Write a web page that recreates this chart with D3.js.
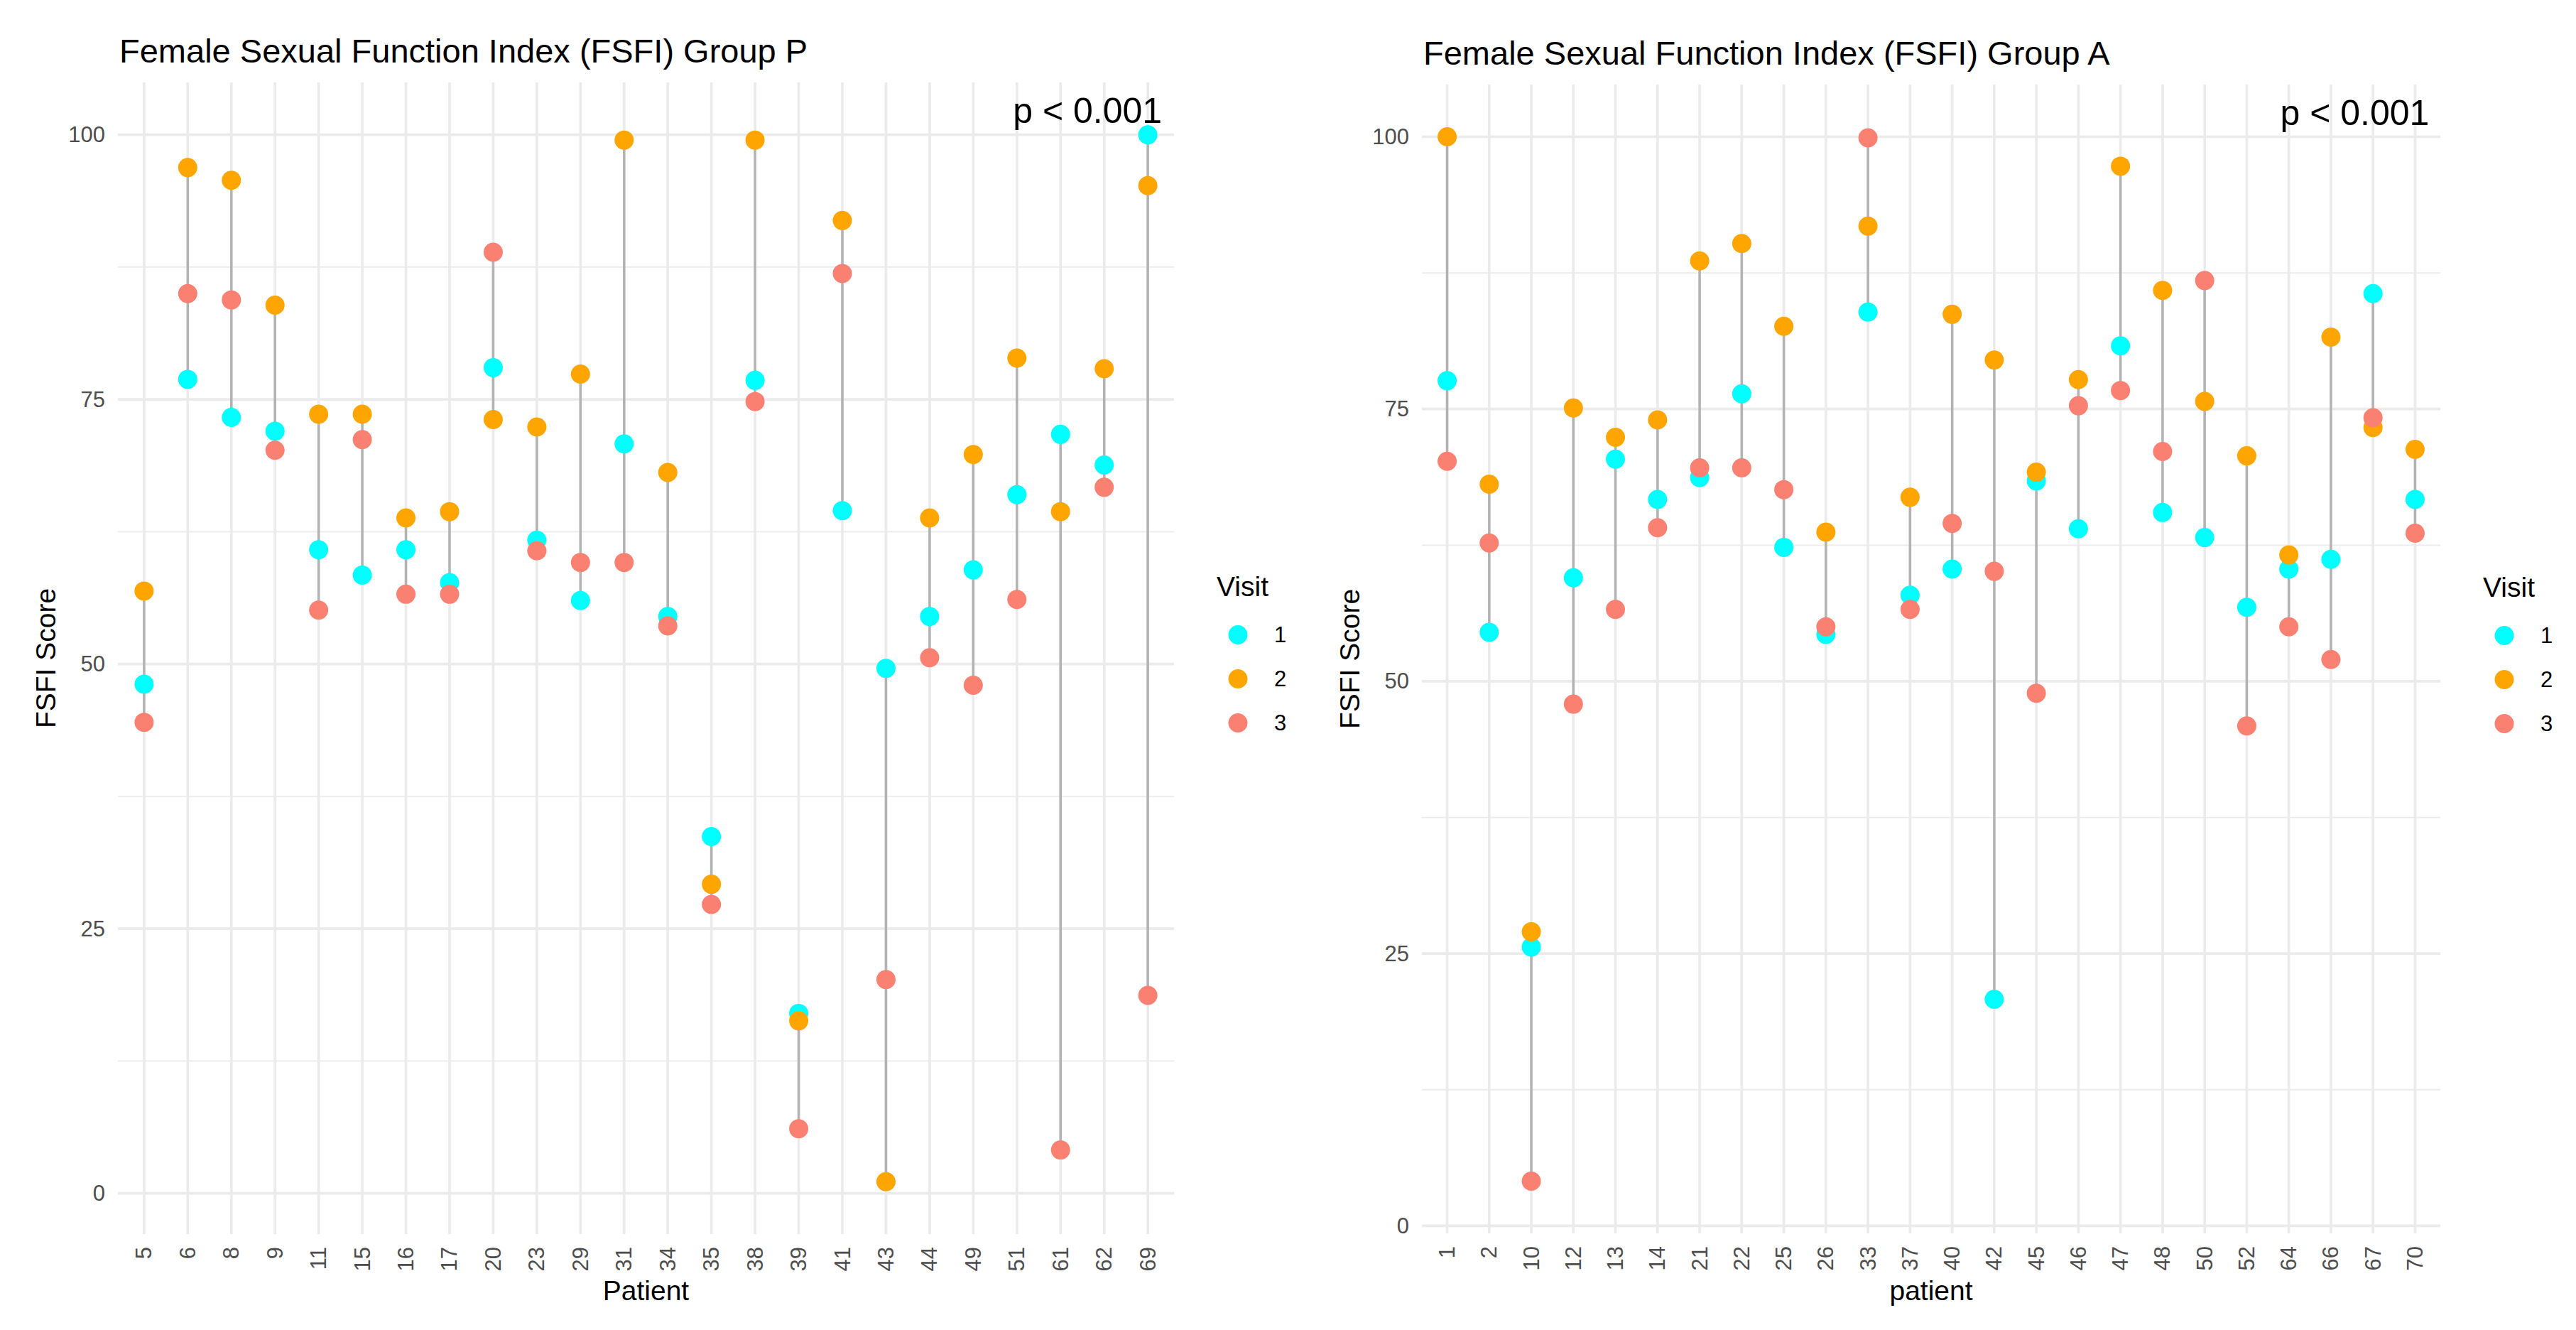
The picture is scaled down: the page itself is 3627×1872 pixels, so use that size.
<!DOCTYPE html>
<html>
<head>
<meta charset="utf-8">
<script src="https://cdn.jsdelivr.net/npm/d3@7"></script>
<style>
  body { margin: 0; background: #fff; }
  text { font-family: "Liberation Sans", Arial, sans-serif; }
</style>
</head>
<body>
<script>
var w = 3627;
var h = 1872;

// Group P
var patientsP = ["5","6","8","9","11","15","16","17","20","23","29","31","34","35","38","39","41","43","44","49","51","61","62","69"];
var visit1P = [48.1, 76.9, 73.3, 72.0, 60.8, 58.4, 60.8, 57.7, 78.0, 61.7, 56.0, 70.8, 54.5, 33.7, 76.8, 17.0, 64.5, 49.6, 54.5, 58.9, 66.0, 71.7, 68.8, 100];
var visit2P = [56.9, 96.9, 95.7, 83.9, 73.6, 73.6, 63.8, 64.4, 73.1, 72.4, 77.4, 99.5, 68.1, 29.2, 99.5, 16.3, 91.9, 1.1, 63.8, 69.8, 78.9, 64.4, 77.9, 95.2];
var visit3P = [44.5, 85.0, 84.4, 70.2, 55.1, 71.2, 56.6, 56.6, 88.9, 60.7, 59.6, 59.6, 53.6, 27.3, 74.8, 6.1, 86.9, 20.2, 50.6, 48.0, 56.1, 4.1, 66.7, 18.7];

// Group A
var patientsA = ["1","2","10","12","13","14","21","22","25","26","33","37","40","42","45","46","47","48","50","52","64","66","67","70"];
var visit1A = [77.6, 54.5, 25.6, 59.5, 70.4, 66.7, 68.7, 76.4, 62.3, 54.3, 83.9, 57.9, 60.3, 20.8, 68.4, 64.0, 80.8, 65.5, 63.2, 56.8, 60.3, 61.2, 85.6, 66.7];
var visit2A = [100, 68.1, 27.0, 75.1, 72.4, 74.0, 88.6, 90.2, 82.6, 63.7, 91.8, 66.9, 83.7, 79.5, 69.2, 77.7, 97.3, 85.9, 75.7, 70.7, 61.6, 81.6, 73.3, 71.3];
var visit3A = [70.2, 62.7, 4.1, 47.9, 56.6, 64.1, 69.6, 69.6, 67.6, 55.0, 99.9, 56.6, 64.5, 60.1, 48.9, 75.3, 76.7, 71.1, 86.8, 45.9, 55.0, 52.0, 74.2, 63.6];

var visits = ["1", "2", "3"];
var visitColors = ["#00ffff", "#ffa500", "#fa8072"];
var yTicks = [0, 25, 50, 75, 100];
var yMinor = [12.5, 37.5, 62.5, 87.5];
var pText = "p < 0.001";
var pY = 101.1;

var svg = d3.select("body")
  .append("svg")
  .attr("width", w)
  .attr("height", h);

svg.append("rect")
  .attr("width", w)
  .attr("height", h)
  .attr("fill", "#fff");

var color = d3.scaleOrdinal().domain(visits).range(visitColors);

function drawPanel(cfg) {
  var g = svg.append("g");

  // long format rows
  var rows = [];
  cfg.series.forEach(function(vals, vi) {
    vals.forEach(function(v, i) {
      rows.push({ patient: cfg.patients[i], visit: visits[vi], value: v });
    });
  });

  // ggplot style 5% expansion
  var ext = d3.extent(rows, function(d) { return d.value; });
  var pad = (ext[1] - ext[0]) * 0.05;

  var xScale = d3.scalePoint()
    .domain(cfg.patients)
    .range([cfg.left, cfg.right])
    .padding(0.6);

  var yScale = d3.scaleLinear()
    .domain([ext[0] - pad, ext[1] + pad])
    .range([cfg.bottom, cfg.top]);

  // minor grid
  g.selectAll(".minor")
    .data(yMinor)
    .enter()
    .append("line")
    .attr("x1", cfg.left).attr("x2", cfg.right)
    .attr("y1", function(d) { return yScale(d); })
    .attr("y2", function(d) { return yScale(d); })
    .attr("stroke", "#ebebeb")
    .attr("stroke-width", 1.8);

  // major grid
  g.selectAll(".hmajor")
    .data(yTicks)
    .enter()
    .append("line")
    .attr("x1", cfg.left).attr("x2", cfg.right)
    .attr("y1", function(d) { return yScale(d); })
    .attr("y2", function(d) { return yScale(d); })
    .attr("stroke", "#ebebeb")
    .attr("stroke-width", 3.7);

  g.selectAll(".vmajor")
    .data(cfg.patients)
    .enter()
    .append("line")
    .attr("x1", function(d) { return xScale(d); })
    .attr("x2", function(d) { return xScale(d); })
    .attr("y1", cfg.top).attr("y2", cfg.bottom)
    .attr("stroke", "#ebebeb")
    .attr("stroke-width", 3.7);

  // range segments per patient
  var ranges = cfg.patients.map(function(p, i) {
    var vals = cfg.series.map(function(s) { return s[i]; });
    return { patient: p, lo: d3.min(vals), hi: d3.max(vals) };
  });

  g.selectAll(".seg")
    .data(ranges)
    .enter()
    .append("line")
    .attr("x1", function(d) { return xScale(d.patient); })
    .attr("x2", function(d) { return xScale(d.patient); })
    .attr("y1", function(d) { return yScale(d.lo); })
    .attr("y2", function(d) { return yScale(d.hi); })
    .attr("stroke", "#b3b3b3")
    .attr("stroke-width", 3.5);

  // points, visit order so visit 3 ends on top
  g.selectAll(".pt")
    .data(rows)
    .enter()
    .append("circle")
    .attr("cx", function(d) { return xScale(d.patient); })
    .attr("cy", function(d) { return yScale(d.value); })
    .attr("r", 13.5)
    .attr("fill", function(d) { return color(d.visit); });

  // y tick labels
  g.selectAll(".ytick")
    .data(yTicks)
    .enter()
    .append("text")
    .attr("x", cfg.left - 18)
    .attr("y", function(d) { return yScale(d); })
    .attr("text-anchor", "end")
    .attr("dominant-baseline", "central")
    .attr("font-size", 31)
    .attr("fill", "#4d4d4d")
    .text(function(d) { return d; });

  // x tick labels (rotated)
  g.selectAll(".xtick")
    .data(cfg.patients)
    .enter()
    .append("text")
    .attr("transform", function(d) {
      return "translate(" + xScale(d) + "," + (cfg.bottom + 18) + ") rotate(-90)";
    })
    .attr("text-anchor", "end")
    .attr("dominant-baseline", "central")
    .attr("font-size", 31)
    .attr("fill", "#4d4d4d")
    .text(function(d) { return d; });

  // title
  g.append("text")
    .attr("x", cfg.left + 2)
    .attr("y", cfg.top - 28)
    .attr("font-size", 47)
    .attr("fill", "#000")
    .text(cfg.title);

  // p-value
  g.append("text")
    .attr("x", xScale(cfg.patients[cfg.patients.length - 1]) + 20)
    .attr("y", yScale(pY))
    .attr("text-anchor", "end")
    .attr("font-size", 50)
    .attr("fill", "#000")
    .text(pText);

  // axis titles
  g.append("text")
    .attr("x", (cfg.left + cfg.right) / 2)
    .attr("y", 1830)
    .attr("text-anchor", "middle")
    .attr("font-size", 39)
    .attr("fill", "#000")
    .text(cfg.xLabel);

  g.append("text")
    .attr("transform", "translate(" + (cfg.left - 102) + "," + ((cfg.top + cfg.bottom) / 2) + ") rotate(-90)")
    .attr("text-anchor", "middle")
    .attr("dominant-baseline", "central")
    .attr("font-size", 39)
    .attr("fill", "#000")
    .text("FSFI Score");

  // legend
  var midY = (cfg.top + cfg.bottom) / 2;
  var lg = g.append("g")
    .attr("transform", "translate(" + (cfg.right + 60) + "," + (midY - 88) + ")");

  lg.append("text")
    .attr("x", 0)
    .attr("y", 0)
    .attr("font-size", 39)
    .attr("fill", "#000")
    .text("Visit");

  var items = lg.selectAll(".item")
    .data(visits)
    .enter()
    .append("g")
    .attr("transform", function(d, i) { return "translate(0," + (55 + i * 62) + ")"; });

  items.append("circle")
    .attr("cx", 30)
    .attr("cy", 0)
    .attr("r", 13.5)
    .attr("fill", function(d) { return color(d); });

  items.append("text")
    .attr("x", 81)
    .attr("y", 0)
    .attr("dominant-baseline", "central")
    .attr("font-size", 31)
    .attr("fill", "#000")
    .text(function(d) { return d; });
}

drawPanel({
  patients: patientsP,
  series: [visit1P, visit2P, visit3P],
  title: "Female Sexual Function Index (FSFI) Group P",
  xLabel: "Patient",
  left: 166, right: 1653, top: 116, bottom: 1737
});

drawPanel({
  patients: patientsA,
  series: [visit1A, visit2A, visit3A],
  title: "Female Sexual Function Index (FSFI) Group A",
  xLabel: "patient",
  left: 2002, right: 3436, top: 119, bottom: 1736
});
</script>
</body>
</html>
